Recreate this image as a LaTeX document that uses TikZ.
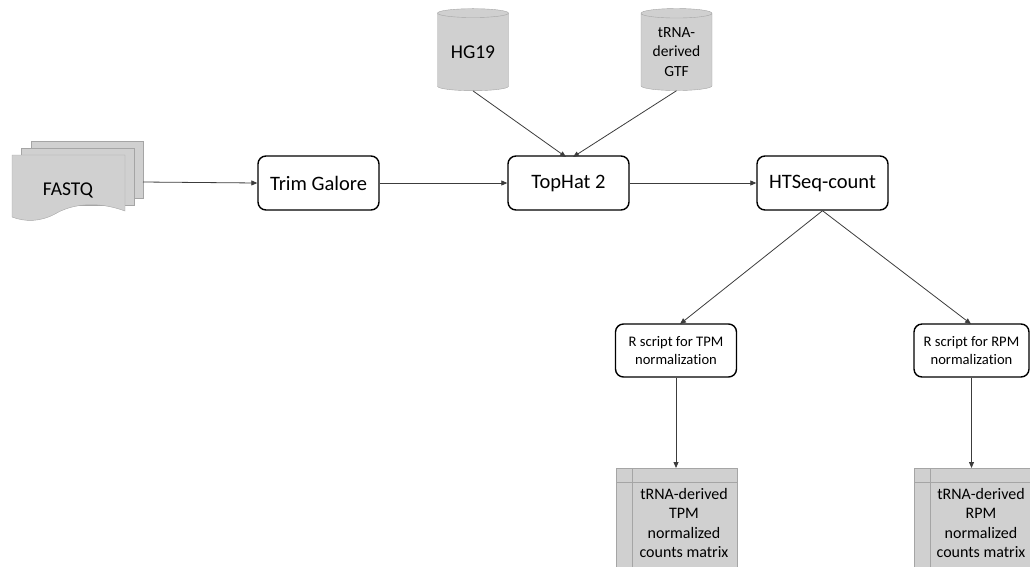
\documentclass[tikz,border=0pt]{standalone}
\usepackage{fontspec}
\setmainfont{Carlito}[Ligatures=NoCommon]
\usetikzlibrary{arrows.meta,shapes.geometric}

\definecolor{boxgray}{RGB}{208,208,208}
\definecolor{edgegray}{RGB}{165,165,165}
\definecolor{linegray}{RGB}{60,60,60}

\begin{document}
\begin{tikzpicture}[
  x=1pt, y=-1pt,
  every node/.style = {align=center, inner sep=0pt},
  tool/.style = {draw, line width=1.4pt, rounded corners=8pt, fill=white,
    minimum height=54pt, font=\fontsize{20.5}{24}\selectfont},
  rscript/.style = {draw, line width=1.4pt, rounded corners=8pt, fill=white,
    minimum width=121pt, minimum height=53pt, font=\fontsize{14.6}{18.3}\selectfont},
  database/.style = {cylinder, shape border rotate=90, aspect=0.2, draw=edgegray,
    fill=boxgray, minimum width=71pt, minimum height=82pt},
  matrixbox/.style = {rectangle, draw=edgegray, fill=boxgray, anchor=north west,
    minimum width=121pt, minimum height=110pt}
  ]
  \clip (0,0) rectangle (1030,566);

  % FASTQ stack
  \filldraw[draw=edgegray, fill=boxgray] (31,141) rectangle (143,198);
  \filldraw[draw=edgegray, fill=boxgray] (21,148) rectangle (134,205);
  \filldraw[draw=edgegray, fill=boxgray] (12,155) -- (125,155) -- (125,211)
    .. controls (95,200) and (70,205) .. (55,214)
    .. controls (40,222) and (25,222) .. (12,217) -- cycle;
  \node[font=\fontsize{19.5}{23}\selectfont] (fastq) at (68,190) {FASTQ};
  \coordinate (fastqR) at (143,182);

  % pipeline
  \node[tool, minimum width=121pt] (trim) at (318.5,183) {Trim Galore};
  \node[tool, minimum width=121pt] (tophat) at (568.5,183) {TopHat 2};
  \node[tool, minimum width=131pt] (htseq) at (822.5,183) {HTSeq-count};

  % references
  \node[database, font=\fontsize{19.5}{23}\selectfont] (hg) at (473,52) {HG19};
  \node[database, font=\fontsize{15.5}{19.3}\selectfont] (gtf) at (676.5,52)
    {tRNA-\\derived\\GTF};

  % normalization
  \node[rscript] (tpm) at (676,350.5) {R script for TPM\\normalization};
  \node[rscript, minimum width=115pt] (rpm) at (971.5,350.5) {R script for RPM\\normalization};

  % outputs
  \node[matrixbox] (tpmmat) at (616,468) {};
  \node[matrixbox] (rpmmat) at (914,468) {};
  \draw[edgegray] (632,468) -- (632,570) (616,482) -- (737,482);
  \draw[edgegray] (930,468) -- (930,570) (914,482) -- (1035,482);
  \node[font=\fontsize{16}{19.5}\selectfont] (tpmtxt) at (684,523)
    {tRNA-derived\\TPM\\normalized\\counts matrix};
  \node[font=\fontsize{16}{19.5}\selectfont] (rpmtxt) at (981,523)
    {tRNA-derived\\RPM\\normalized\\counts matrix};

  \tikzset{flow/.style = {draw=linegray, line width=0.8pt,
    -{Triangle[length=6pt,width=5pt]}}}

  \draw[flow] (fastqR) -- (trim.west);
  \draw[flow] (trim) -- (tophat);
  \draw[flow] (tophat) -- (htseq);
  \draw[flow] (hg.south) -- (566,157);
  \draw[flow] (gtf.south) -- (573,157);
  \draw[flow] (htseq.south) -- (680,324);
  \draw[flow] (htseq.south) -- (971,324);
  \draw[flow] (tpm.south) -- (tpm.south |- tpmmat.north);
  \draw[flow] (rpm.south) -- (rpm.south |- rpmmat.north);

\end{tikzpicture}
\end{document}
